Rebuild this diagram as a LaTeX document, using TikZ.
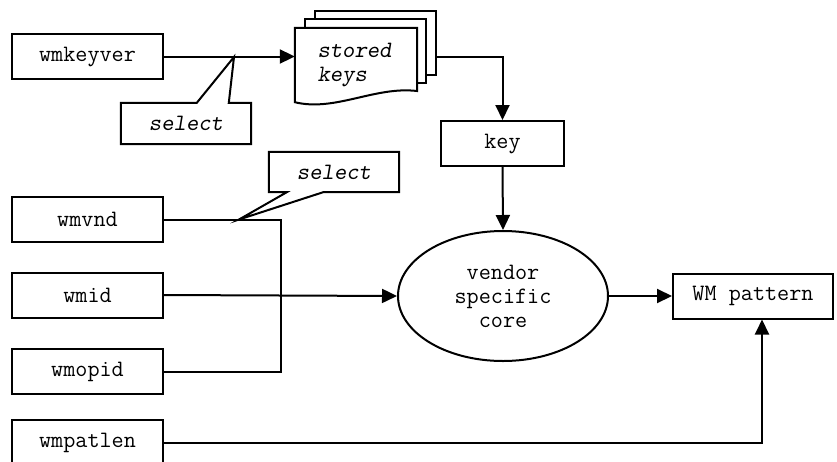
\documentclass[tikz,border=0pt]{standalone}
\usepackage{fontspec}
\usetikzlibrary{positioning, arrows.meta, shapes.geometric}

\tikzset{
    box/.style={draw, line width=2pt, fill=white, minimum width=151pt, minimum height=45pt, inner sep=0pt},
    page/.style={draw, line width=2pt, fill=white, minimum width=121pt, minimum height=64pt, inner sep=0pt},
    flow/.style={line width=2pt, -{Triangle[length=15pt,width=14pt]}},
    wire/.style={line width=2pt},
    callout/.style={draw, line width=2pt, fill=white, line join=miter},
    note/.style={font=\ttfamily\slshape\fontsize{23.5pt}{24pt}\selectfont},
}

\begin{document}
\begin{tikzpicture}[x=1pt, y=-1pt, font=\ttfamily\fontsize{23.5pt}{24pt}\selectfont]
    \useasboundingbox (0,0) rectangle (837,461);

    % inputs
    \node[box] (wmkeyver) at (87.5,56.5) {wmkeyver};
    \node[box] (wmvnd)    at (87.5,219.5) {wmvnd};
    \node[box] (wmid)     at (87.5,295) {wmid};
    \node[box] (wmopid)   at (87.5,371.5) {wmopid};
    \node[box] (wmpatlen) at (87.5,442.5) {wmpatlen};

    % stored keys (stack of pages)
    \node[page] (page3) at (375.5,43) {};
    \node[page] (page2) at (365.5,51) {};
    \node[minimum width=122pt, minimum height=74pt, inner sep=0pt] (front) at (356,65) {};
    \draw[wire, fill=white] (front.south west) -- (front.north west) -- (front.north east)
        -- (417,91) .. controls (375,86) and (335,112) .. (front.south west) -- cycle;
    \node[note, align=left, anchor=west] (stored) at (314,65) {stored\\keys};

    \node[box, minimum width=123pt] (key) at (502.5,143.5) {key};
    \node[draw, ellipse, line width=2pt, minimum width=210pt, minimum height=130pt,
        inner sep=0pt, align=center] (core) at (503,296) {vendor\\specific\\core};
    \node[box, minimum width=160pt] (pattern) at (753,296) {WM pattern};

    % connectors
    \draw[flow] (wmkeyver.east) -- (wmkeyver.east -| front.west);
    \draw[flow] (page3.east |- wmkeyver.east) -| (key.north);
    \draw[flow] (key.south) -- (core.north);

    \coordinate (join) at (281,295);
    \draw[wire] (wmvnd.east) -| (join);
    \draw[wire] (wmopid.east) -| (join);
    \draw[flow] (wmid.east) -- (core.west);

    \draw[flow] (core.east) -- (pattern.west);
    \draw[flow] (wmpatlen.east) -| (pattern.south -| 762,0);

    % select callouts
    \coordinate (tip1) at (234,57);
    \coordinate (tip2) at (239,219.5);
    \node[minimum width=130pt, minimum height=41pt, inner sep=0pt] (select1) at (186,123.5) {};
    \draw[callout] (select1.north west) -- ++(76,0) -- (tip1) -- ([xshift=108pt]select1.north west)
        -- (select1.north east) -- (select1.south east) -- (select1.south west) -- cycle;
    \node[note] at (select1) {select};

    \node[minimum width=130pt, minimum height=40pt, inner sep=0pt] (select2) at (334,172) {};
    \draw[callout] (select2.north west) -- (select2.north east) -- (select2.south east)
        -- ([xshift=-76pt]select2.south east) -- (tip2) -- ([xshift=18pt]select2.south west)
        -- (select2.south west) -- cycle;
    \node[note] at (select2) {select};

\end{tikzpicture}
\end{document}
